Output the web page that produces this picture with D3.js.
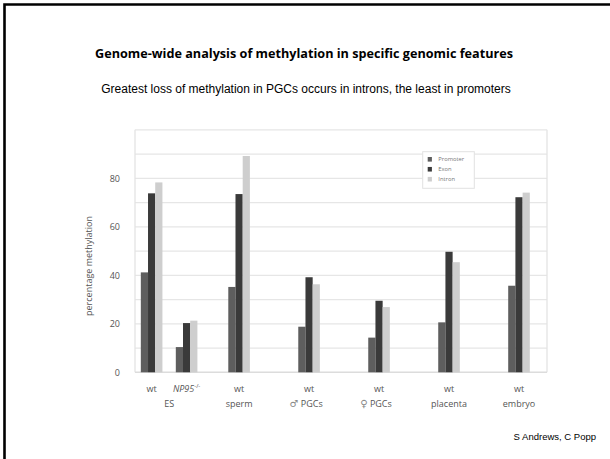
<!DOCTYPE html>
<html><head><meta charset="utf-8">
<script src="https://cdn.jsdelivr.net/npm/d3@7"></script>
<style>body{margin:0;background:#fff}svg{display:block}</style>
</head><body>
<svg id="c" width="610" height="459"></svg>
<script>
const groups = ["wt ES", "NP95-/- ES", "wt sperm", "wt ♂ PGCs", "wt ♀ PGCs", "wt placenta", "wt embryo"];
const series = ["Promoter", "Exon", "Intron"];
const promoter = [41.2, 10.4, 35.2, 18.8, 14.3, 20.6, 35.7];
const exon = [73.8, 20.3, 73.5, 39.2, 29.5, 49.7, 72.2];
const intron = [78.3, 21.3, 89.2, 36.3, 26.9, 45.4, 74.1];
const yTicks = [0, 20, 40, 60, 80];
const line1 = ["wt", "NP95", "wt", "wt", "wt", "wt", "wt"];
const line2 = ["ES", "sperm", "♂ PGCs", "♀ PGCs", "placenta", "embryo"];

const svg = d3.select("#c");
const colors = {Promoter: "#5e5e5e", Exon: "#3a3a3a", Intron: "#cecece"};
const values = {Promoter: promoter, Exon: exon, Intron: intron};

// layout: slot positions of groups along x
const slots = [0, 2, 5, 9, 13, 17, 21];
const x = d3.scaleLinear().domain([-0.95, 22.6]).range([135, 547]);
const y = d3.scaleLinear().domain([0, 100]).range([372.3, 129.8]);
const bw = 7.2;
const sub = d3.scaleBand().domain(series).range([-1.5 * bw, 1.5 * bw]).padding(0);

// slide border
svg.append("path").attr("d", "M4.5,459 L4.5,4.5 L610,4.5").attr("fill", "none").attr("stroke", "#000").attr("stroke-width", 2.6);

// title
svg.append("text").attr("x", 304).attr("y", 57.5).attr("text-anchor", "middle")
  .attr("font-family", "'Open Sans', sans-serif").attr("font-weight", "bold").attr("font-size", 12.5)
  .attr("textLength", 418).attr("lengthAdjust", "spacingAndGlyphs").attr("fill", "#000")
  .text("Genome-wide analysis of methylation in specific genomic features");
svg.append("text").attr("x", 306).attr("y", 93).attr("text-anchor", "middle")
  .attr("font-family", "'Liberation Sans', Arial, sans-serif").attr("font-size", 12).attr("fill", "#000")
  .text("Greatest loss of methylation in PGCs occurs in introns, the least in promoters");
svg.append("text").attr("x", 596).attr("y", 440).attr("text-anchor", "end")
  .attr("font-family", "'Liberation Sans', Arial, sans-serif").attr("font-size", 9.5).attr("fill", "#000")
  .text("S Andrews, C Popp");

// gridlines
const grid = d3.range(10, 101, 10);
svg.append("g").selectAll("line").data(grid).join("line")
  .attr("x1", 135).attr("x2", 547).attr("y1", d => y(d)).attr("y2", d => y(d))
  .attr("stroke", "#e6e6e6").attr("stroke-width", 1.3);
svg.append("line").attr("x1", 135).attr("x2", 135).attr("y1", y(100)).attr("y2", y(0)).attr("stroke", "#e3e3e3").attr("stroke-width", 1.3);
svg.append("line").attr("x1", 547).attr("x2", 547).attr("y1", y(100)).attr("y2", y(0)).attr("stroke", "#e3e3e3").attr("stroke-width", 1.3);
svg.append("line").attr("x1", 135).attr("x2", 547).attr("y1", y(0)).attr("y2", y(0)).attr("stroke", "#dcdcdc").attr("stroke-width", 1.5);

// y axis
const yAxis = d3.axisLeft(y).tickValues(yTicks).tickSize(0).tickPadding(0);
const ga = svg.append("g").attr("transform", "translate(120,0)").call(yAxis);
ga.select(".domain").remove();
ga.selectAll("text").attr("font-family", "'Open Sans', sans-serif").attr("font-size", 9).attr("fill", "#555").attr("dy", "0.35em");
svg.append("text").attr("transform", "translate(92,266) rotate(-90)").attr("text-anchor", "middle")
  .attr("font-family", "'Open Sans', sans-serif").attr("font-size", 9).attr("fill", "#555")
  .text("percentage methylation");

// bars
const bars = [];
groups.forEach((g, i) => series.forEach(s => bars.push({g: i, s, v: values[s][i]})));
svg.append("g").selectAll("rect").data(bars).join("rect")
  .attr("x", d => x(slots[d.g]) + sub(d.s))
  .attr("width", sub.bandwidth())
  .attr("y", d => y(d.v))
  .attr("height", d => y(0) - y(d.v))
  .attr("fill", d => colors[d.s]);

// x labels
const tf = "'Open Sans', sans-serif";
line1.forEach((t, i) => {
  const tx = svg.append("text").attr("x", x(slots[i])).attr("y", 391.5).attr("text-anchor", "middle")
    .attr("font-family", tf).attr("font-size", 9).attr("fill", "#555");
  if (t === "NP95") {
    tx.append("tspan").attr("font-style", "italic").text("NP95");
    tx.append("tspan").attr("font-size", 6).attr("dy", -4).text("-/-");
  } else tx.text(t);
});
const l2pos = [(x(slots[0]) + x(slots[1])) / 2, x(slots[2]), x(slots[3]), x(slots[4]), x(slots[5]), x(slots[6])];
line2.forEach((t, i) => {
  const tx = svg.append("text").attr("x", l2pos[i] - (i === 2 || i === 3 ? 3 : 0)).attr("y", 406.5).attr("text-anchor", "middle")
    .attr("font-family", tf).attr("font-size", 9).attr("fill", "#555");
  const sym = t.match(/^([♂♀]) (.*)$/);
  if (sym) {
    tx.append("tspan").attr("font-family", "'DejaVu Sans', sans-serif").attr("font-size", 10).attr("fill", "#888").text(sym[1]);
    tx.append("tspan").text(" " + sym[2]);
  } else tx.text(t);
});

// legend
const lg = svg.append("g");
lg.append("rect").attr("x", 422.7).attr("y", 151.7).attr("width", 51.6).attr("height", 36.6)
  .attr("fill", "#fff").attr("stroke", "#e2e2e2").attr("stroke-width", 1);
const ly = d3.scalePoint().domain(series).range([159.3, 179.2]);
series.forEach(s => {
  lg.append("rect").attr("x", 427.7).attr("y", ly(s) - 2.3).attr("width", 4.2).attr("height", 4.6).attr("fill", colors[s]);
  lg.append("text").attr("x", 438.3).attr("y", ly(s)).attr("dy", "0.35em")
    .attr("font-family", tf).attr("font-size", 5.8).attr("fill", "#777").text(s);
});
</script>
</body></html>
